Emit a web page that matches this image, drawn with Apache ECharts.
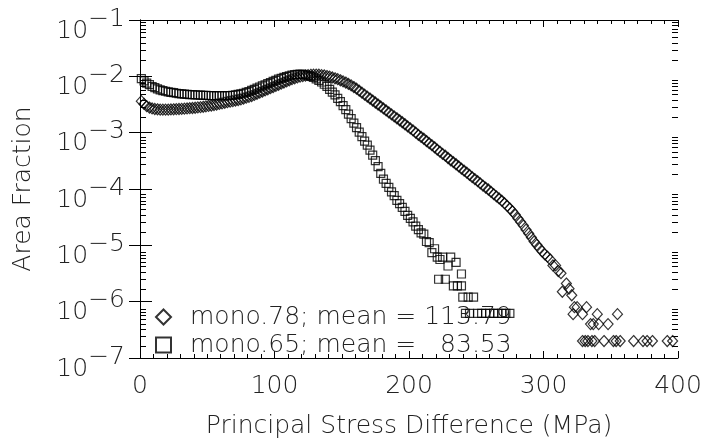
<!DOCTYPE html>
<html><head><meta charset="utf-8">
<script src="https://cdn.jsdelivr.net/npm/echarts@6/dist/echarts.min.js"></script>
<style>html,body{margin:0;padding:0;background:#fff}#c{width:706px;height:444px}</style>
</head><body><div id="c"></div>
<script>
const xTickValues = [0, 100, 200, 300, 400];
const yDecades = [1e-7, 1e-6, 1e-5, 1e-4, 1e-3, 1e-2, 1e-1];
const yMinorMultipliers = [2, 3, 4, 5, 6, 7, 8, 9];
const seriesNames = ['mono.78; mean = 113.79', 'mono.65; mean =   83.53'];
const xTitle = 'Principal Stress Difference (MPa)';
const yTitle = 'Area Fraction';

const mono78 = [[1,3.63e-3],[3,3.24e-3],[5,2.95e-3],[7,2.79e-3],[9,2.69e-3],[11,2.63e-3],[13,2.60e-3],[15,2.57e-3],[17,2.57e-3],[19,2.57e-3],[21,2.57e-3],[23,2.58e-3],[25,2.60e-3],[27,2.62e-3],[29,2.63e-3],[31,2.65e-3],[33,2.67e-3],[35,2.69e-3],[37,2.72e-3],[39,2.74e-3],[41,2.77e-3],[43,2.81e-3],[45,2.84e-3],[47,2.88e-3],[49,2.93e-3],[51,2.98e-3],[53,3.03e-3],[55,3.09e-3],[57,3.16e-3],[59,3.24e-3],[61,3.31e-3],[63,3.39e-3],[65,3.47e-3],[67,3.55e-3],[69,3.63e-3],[71,3.72e-3],[73,3.80e-3],[75,3.89e-3],[77,4.03e-3],[79,4.17e-3],[81,4.32e-3],[83,4.47e-3],[85,4.68e-3],[87,4.90e-3],[89,5.13e-3],[91,5.37e-3],[93,5.62e-3],[95,5.89e-3],[97,6.17e-3],[99,6.46e-3],[101,6.76e-3],[103,7.08e-3],[105,7.41e-3],[107,7.76e-3],[109,8.13e-3],[111,8.51e-3],[113,8.91e-3],[115,9.23e-3],[117,9.55e-3],[119,9.89e-3],[121,1.012e-2],[123,1.035e-2],[125,1.052e-2],[127,1.064e-2],[129,1.072e-2],[131,1.072e-2],[133,1.067e-2],[135,1.052e-2],[137,1.035e-2],[139,1.012e-2],[141,9.89e-3],[143,9.55e-3],[145,9.23e-3],[147,8.91e-3],[149,8.51e-3],[151,8.13e-3],[153,7.76e-3],[155,7.33e-3],[157,6.92e-3],[159,6.46e-3],[161,6.03e-3],[163,5.56e-3],[165,5.13e-3],[167,4.73e-3],[169,4.37e-3],[171,4.03e-3],[173,3.72e-3],[175,3.43e-3],[177,3.16e-3],[179,2.92e-3],[181,2.69e-3],[183,2.48e-3],[185,2.29e-3],[187,2.11e-3],[189,1.95e-3],[191,1.80e-3],[193,1.66e-3],[195,1.53e-3],[197,1.41e-3],[199,1.29e-3],[201,1.19e-3],[203,1.10e-3],[205,1.00e-3],[207,9.1e-4],[209,8.4e-4],[211,7.8e-4],[213,7.1e-4],[215,6.5e-4],[217,6.0e-4],[219,5.5e-4],[221,5.0e-4],[223,4.6e-4],[225,4.2e-4],[227,3.9e-4],[229,3.55e-4],[231,3.24e-4],[233,2.99e-4],[235,2.75e-4],[237,2.51e-4],[239,2.29e-4],[241,2.11e-4],[243,1.95e-4],[245,1.78e-4],[247,1.62e-4],[249,1.50e-4],[251,1.38e-4],[253,1.26e-4],[255,1.15e-4],[257,1.06e-4],[259,9.8e-5],[261,8.9e-5],[263,8.1e-5],[265,7.4e-5],[267,6.8e-5],[269,6.2e-5],[271,5.6e-5],[273,5.0e-5],[275,4.5e-5],[277,4.0e-5],[279,3.5e-5],[281,3.0e-5],[283,2.6e-5],[285,2.24e-5],[287,1.9e-5],[289,1.62e-5],[291,1.38e-5],[293,1.17e-5],[295,1.02e-5],[297,8.9e-6],[299,7.8e-6],[301,6.9e-6],[303,6.3e-6],[305,5.6e-6],[307,4.4e-6],[309,4.4e-6],[311,3.5e-6],[313,3.2e-6],[314,1.5e-6],[317,2.1e-6],[319,1.7e-6],[321,1.3e-6],[322,6e-7],[323,8e-7],[325,8e-7],[329,6e-7],[332,8e-7],[335,4e-7],[337,4e-7],[340,6e-7],[341,4e-7],[348,4e-7],[355,6e-7],[329,2e-7],[331,2e-7],[333,2e-7],[336,2e-7],[338,2e-7],[345,2e-7],[352,2e-7],[354,2e-7],[357,2e-7],[367,2e-7],[374,2e-7],[377,2e-7],[381,2e-7],[392,2e-7],[396,2e-7]];

const mono65 = [[1,9.1e-3],[3,8.3e-3],[5,7.6e-3],[7,7.1e-3],[9,6.6e-3],[11,6.3e-3],[13,6.0e-3],[15,5.75e-3],[17,5.56e-3],[19,5.43e-3],[21,5.31e-3],[23,5.19e-3],[25,5.13e-3],[27,5.01e-3],[29,4.95e-3],[31,4.90e-3],[33,4.84e-3],[35,4.79e-3],[37,4.75e-3],[39,4.72e-3],[41,4.68e-3],[43,4.66e-3],[45,4.63e-3],[47,4.61e-3],[49,4.59e-3],[51,4.57e-3],[53,4.55e-3],[55,4.54e-3],[57,4.53e-3],[59,4.52e-3],[61,4.52e-3],[63,4.53e-3],[65,4.55e-3],[67,4.57e-3],[69,4.62e-3],[71,4.68e-3],[73,4.79e-3],[75,4.90e-3],[77,5.01e-3],[79,5.19e-3],[81,5.37e-3],[83,5.62e-3],[85,5.89e-3],[87,6.17e-3],[89,6.46e-3],[91,6.76e-3],[93,7.08e-3],[95,7.41e-3],[97,7.76e-3],[99,8.13e-3],[101,8.51e-3],[103,8.91e-3],[105,9.23e-3],[107,9.55e-3],[109,9.89e-3],[111,1.023e-2],[113,1.047e-2],[115,1.072e-2],[117,1.084e-2],[119,1.09e-2],[121,1.084e-2],[123,1.067e-2],[125,1.035e-2],[127,1.0e-2],[129,9.55e-3],[131,9.02e-3],[133,8.51e-3],[135,7.94e-3],[137,7.24e-3],[139,6.61e-3],[141,5.89e-3],[143,5.25e-3],[145,4.68e-3],[147,4.07e-3],[149,3.55e-3],[151,3.02e-3],[153,2.57e-3],[155,2.14e-3],[157,1.78e-3],[159,1.48e-3],[161,1.23e-3],[163,1.02e-3],[165,8.5e-4],[167,7.1e-4],[169,6.0e-4],[171,4.9e-4],[173,4.0e-4],[175,3.2e-4],[177,2.5e-4],[179,1.9e-4],[181,1.5e-4],[183,1.26e-4],[185,1.07e-4],[187,8.9e-5],[189,7.6e-5],[191,6.3e-5],[193,5.5e-5],[195,4.7e-5],[197,4.0e-5],[199,3.4e-5],[201,3.0e-5],[203,2.6e-5],[205,2.2e-5],[207,1.9e-5],[209,1.66e-5],[211,1.58e-5],[213,1.17e-5],[215,1.12e-5],[217,7.4e-6],[219,8.7e-6],[221,6.2e-6],[222,2.5e-6],[223,5.6e-6],[225,6.2e-6],[227,2.5e-6],[229,4.3e-6],[231,6.2e-6],[233,1.9e-6],[235,5.0e-6],[236,1.9e-6],[239,1.9e-6],[239,3.1e-6],[240,1.2e-6],[244,1.2e-6],[248,1.2e-6],[242,6.2e-7],[245,6.2e-7],[251,6.2e-7],[254,6.2e-7],[257,6.2e-7],[260,6.2e-7],[263,6.2e-7],[266,6.2e-7],[269,6.2e-7],[272,6.2e-7],[275,6.2e-7]];

const FONT = "'DejaVu Sans', sans-serif";
const TXT = '#222';
const minorLog = [];
yDecades.slice(0, -1).forEach(d => yMinorMultipliers.forEach(m => minorLog.push(Math.log10(d * m))));

const chart = echarts.init(document.getElementById('c'), null, {renderer: 'canvas'});
const supFmt = v => '{b|10}{e|\u2212' + (-Math.round(Math.log10(v))) + '}';
const lineStyle = {color: '#000', width: 1};
const gridRect = {left: 140, right: 28, top: 20, bottom: 80};
const baseX = {type: 'value', min: 0, max: 400, interval: 100, splitLine: {show: false}};
const baseLog = {type: 'log', logBase: 10, min: 1e-7, max: 1e-1, splitNumber: 6, splitLine: {show: false}};
const baseMinor = {type: 'value', gridIndex: 1, min: -7, max: -1, splitLine: {show: false}, axisLabel: {show: false}, axisLine: {show: false},
  axisTick: {show: true, inside: true, length: 6, lineStyle, customValues: minorLog}};

chart.setOption({
  animation: false,
  backgroundColor: '#fff',
  grid: [Object.assign({}, gridRect), Object.assign({}, gridRect)],
  legend: {
    orient: 'vertical', left: 155, top: 303, padding: 0, itemGap: 0,
    itemWidth: 15, itemHeight: 15, selectedMode: false,
    textStyle: {fontFamily: FONT, fontWeight: 200, fontSize: 25, color: TXT, lineHeight: 28, padding: [0, 0, 0, 14]},
    data: seriesNames
  },
  xAxis: [
    Object.assign({}, baseX, {position: 'bottom',
      axisLine: {lineStyle}, axisTick: {inside: true, length: 7, lineStyle},
      minorTick: {show: true, splitNumber: 10, length: 4, lineStyle},
      axisLabel: {fontFamily: FONT, fontWeight: 200, fontSize: 25, color: TXT, margin: 16,
        customValues: xTickValues, formatter: v => String(v)},
      name: xTitle, nameLocation: 'middle', nameGap: 56,
      nameTextStyle: {fontFamily: FONT, fontWeight: 200, fontSize: 25, color: TXT}}),
    Object.assign({}, baseX, {position: 'top',
      axisLine: {lineStyle}, axisTick: {inside: true, length: 7, lineStyle},
      minorTick: {show: true, splitNumber: 10, length: 4, lineStyle},
      axisLabel: {show: false}}),
    Object.assign({}, baseX, {gridIndex: 1, show: false})
  ],
  yAxis: [
    Object.assign({}, baseLog, {position: 'left',
      axisLine: {show: true, lineStyle}, axisTick: {show: true, inside: true, length: 12, lineStyle},
      axisLabel: {margin: 15, padding: [10, 0, 0, 0], formatter: supFmt,
        fontFamily: FONT, fontWeight: 200, fontSize: 25, color: TXT,
        rich: {
          b: {fontFamily: FONT, fontWeight: 200, fontSize: 25, color: TXT, padding: [12, 0, 0, 0]},
          e: {fontFamily: FONT, fontWeight: 200, fontSize: 25, color: TXT, padding: [0, 0, 12, 0]}
        }},
      name: yTitle, nameLocation: 'middle', nameGap: 104, nameRotate: 90,
      nameTextStyle: {fontFamily: FONT, fontWeight: 200, fontSize: 25, color: TXT}}),
    Object.assign({}, baseLog, {position: 'right',
      axisLine: {show: true, lineStyle}, axisTick: {show: true, inside: true, length: 11, lineStyle},
      axisLabel: {show: false}}),
    Object.assign({}, baseMinor, {position: 'left'}),
    Object.assign({}, baseMinor, {position: 'right'})
  ],
  series: [
    {name: seriesNames[0], type: 'scatter', xAxisIndex: 0, yAxisIndex: 0, symbol: 'diamond', symbolSize: [10, 11],
      itemStyle: {color: 'rgba(0,0,0,0)', borderColor: '#000', borderWidth: 1.2}, emphasis: {disabled: true}, data: mono78},
    {name: seriesNames[1], type: 'scatter', xAxisIndex: 0, yAxisIndex: 0, symbol: 'rect', symbolSize: [8, 8],
      itemStyle: {color: 'rgba(0,0,0,0)', borderColor: '#000', borderWidth: 1.2}, emphasis: {disabled: true}, data: mono65}
  ]
});
</script></body></html>
